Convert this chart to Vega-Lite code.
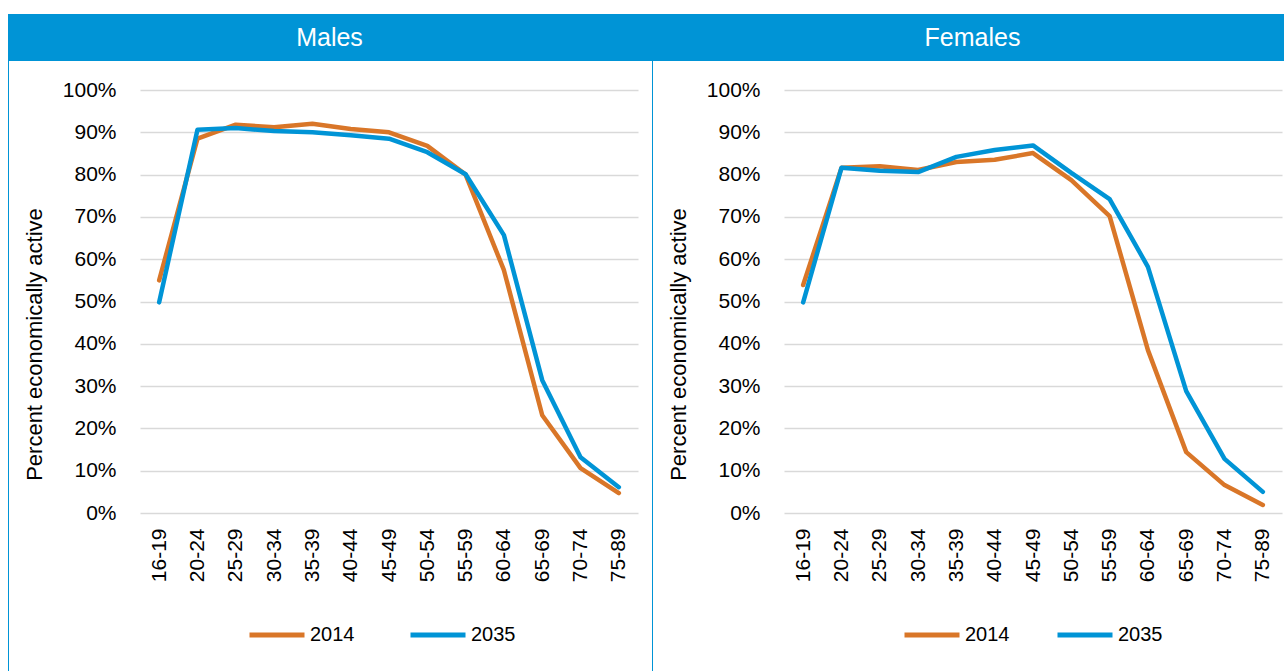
{
  "$schema": "https://vega.github.io/schema/vega-lite/v6.json",
  "padding": {"left": 8, "top": 14, "right": 0, "bottom": 0},
  "background": "white",
  "spacing": 0,
  "config": {
    "view": {"stroke": null},
    "font": "Liberation Sans",
    "axis": {"labelFont": "Liberation Sans", "labelColor": "black", "titleFont": "Liberation Sans", "titleColor": "black", "titleFontWeight": "normal"},
    "legend": {"labelFont": "Liberation Sans", "labelColor": "black"}
  },
  "datasets": {
    "rates": [
      {"sex": "Males", "age": "16-19", "year": "2014", "rate": 0.550},
      {"sex": "Males", "age": "20-24", "year": "2014", "rate": 0.885},
      {"sex": "Males", "age": "25-29", "year": "2014", "rate": 0.918},
      {"sex": "Males", "age": "30-34", "year": "2014", "rate": 0.912},
      {"sex": "Males", "age": "35-39", "year": "2014", "rate": 0.920},
      {"sex": "Males", "age": "40-44", "year": "2014", "rate": 0.908},
      {"sex": "Males", "age": "45-49", "year": "2014", "rate": 0.900},
      {"sex": "Males", "age": "50-54", "year": "2014", "rate": 0.868},
      {"sex": "Males", "age": "55-59", "year": "2014", "rate": 0.800},
      {"sex": "Males", "age": "60-64", "year": "2014", "rate": 0.574},
      {"sex": "Males", "age": "65-69", "year": "2014", "rate": 0.231},
      {"sex": "Males", "age": "70-74", "year": "2014", "rate": 0.106},
      {"sex": "Males", "age": "75-89", "year": "2014", "rate": 0.047},
      {"sex": "Males", "age": "16-19", "year": "2035", "rate": 0.498},
      {"sex": "Males", "age": "20-24", "year": "2035", "rate": 0.906},
      {"sex": "Males", "age": "25-29", "year": "2035", "rate": 0.910},
      {"sex": "Males", "age": "30-34", "year": "2035", "rate": 0.903},
      {"sex": "Males", "age": "35-39", "year": "2035", "rate": 0.900},
      {"sex": "Males", "age": "40-44", "year": "2035", "rate": 0.893},
      {"sex": "Males", "age": "45-49", "year": "2035", "rate": 0.885},
      {"sex": "Males", "age": "50-54", "year": "2035", "rate": 0.853},
      {"sex": "Males", "age": "55-59", "year": "2035", "rate": 0.801},
      {"sex": "Males", "age": "60-64", "year": "2035", "rate": 0.657},
      {"sex": "Males", "age": "65-69", "year": "2035", "rate": 0.314},
      {"sex": "Males", "age": "70-74", "year": "2035", "rate": 0.132},
      {"sex": "Males", "age": "75-89", "year": "2035", "rate": 0.061},
      {"sex": "Females", "age": "16-19", "year": "2014", "rate": 0.539},
      {"sex": "Females", "age": "20-24", "year": "2014", "rate": 0.816},
      {"sex": "Females", "age": "25-29", "year": "2014", "rate": 0.820},
      {"sex": "Females", "age": "30-34", "year": "2014", "rate": 0.811},
      {"sex": "Females", "age": "35-39", "year": "2014", "rate": 0.830},
      {"sex": "Females", "age": "40-44", "year": "2014", "rate": 0.835},
      {"sex": "Females", "age": "45-49", "year": "2014", "rate": 0.851},
      {"sex": "Females", "age": "50-54", "year": "2014", "rate": 0.787},
      {"sex": "Females", "age": "55-59", "year": "2014", "rate": 0.702},
      {"sex": "Females", "age": "60-64", "year": "2014", "rate": 0.385},
      {"sex": "Females", "age": "65-69", "year": "2014", "rate": 0.144},
      {"sex": "Females", "age": "70-74", "year": "2014", "rate": 0.066},
      {"sex": "Females", "age": "75-89", "year": "2014", "rate": 0.019},
      {"sex": "Females", "age": "16-19", "year": "2035", "rate": 0.498},
      {"sex": "Females", "age": "20-24", "year": "2035", "rate": 0.816},
      {"sex": "Females", "age": "25-29", "year": "2035", "rate": 0.809},
      {"sex": "Females", "age": "30-34", "year": "2035", "rate": 0.806},
      {"sex": "Females", "age": "35-39", "year": "2035", "rate": 0.842},
      {"sex": "Females", "age": "40-44", "year": "2035", "rate": 0.858},
      {"sex": "Females", "age": "45-49", "year": "2035", "rate": 0.869},
      {"sex": "Females", "age": "50-54", "year": "2035", "rate": 0.804},
      {"sex": "Females", "age": "55-59", "year": "2035", "rate": 0.742},
      {"sex": "Females", "age": "60-64", "year": "2035", "rate": 0.582},
      {"sex": "Females", "age": "65-69", "year": "2035", "rate": 0.288},
      {"sex": "Females", "age": "70-74", "year": "2035", "rate": 0.128},
      {"sex": "Females", "age": "75-89", "year": "2035", "rate": 0.050}
    ],
    "panels": [{"sex": "Males"}, {"sex": "Females"}]
  },
  "vconcat": [
    {
      "width": 1286,
      "height": 47,
      "data": {"name": "panels"},
      "view": {"fill": "#0094D6", "stroke": null},
      "mark": {"type": "text", "color": "white", "fontSize": 25, "font": "Liberation Sans", "baseline": "middle"},
      "encoding": {
        "x": {"field": "sex", "type": "nominal", "sort": ["Males", "Females"], "scale": {"type": "point", "padding": 0.5}, "axis": null},
        "text": {"field": "sex"}
      }
    },
    {
      "spacing": 14,
      "hconcat": [
        {
          "width": 1,
          "height": 610,
          "data": {"values": []},
          "view": {"fill": "#0094D6", "stroke": null},
          "mark": "point",
          "encoding": {}
        },
        {
          "width": 498,
          "height": 452,
          "data": {"name": "rates"},
          "transform": [{"filter": "datum.sex === 'Males'"}],
          "mark": {"type": "line", "strokeWidth": 4.5, "strokeCap": "round", "strokeJoin": "round"},
          "encoding": {
            "x": {"field": "age", "type": "ordinal", "scale": {"type": "point", "padding": 0.5},
              "axis": {"title": null, "labelAngle": -90, "labelFontSize": 21, "labelPadding": 15, "ticks": false, "domain": false, "grid": false}},
            "y": {"field": "rate", "type": "quantitative", "scale": {"domain": [0, 1.0686], "nice": false},
              "axis": {"title": "Percent economically active", "titleFontSize": 22, "titlePadding": 16, "titleY": 283,
                "values": [0, 0.1, 0.2, 0.3, 0.4, 0.5, 0.6, 0.7, 0.8, 0.9, 1.0], "format": ".0%",
                "labelFontSize": 21, "labelPadding": 24,
                "ticks": false, "domain": false, "grid": true, "gridColor": "#D9D9D9", "gridWidth": 1.5}},
            "color": {"field": "year", "type": "nominal", "scale": {"domain": ["2014", "2035"], "range": ["#D97628", "#0094D6"]},
              "legend": {"title": null, "orient": "none", "legendX": 107, "legendY": 544, "direction": "horizontal", "symbolType": "stroke", "symbolSize": 3025, "symbolStrokeWidth": 5, "labelFontSize": 20, "labelOffset": 3, "columnPadding": 45}}
          }
        },
        {
          "width": 1,
          "height": 610,
          "data": {"values": []},
          "view": {"fill": "#0094D6", "stroke": null},
          "mark": "point",
          "encoding": {}
        },
        {
          "width": 498,
          "height": 452,
          "data": {"name": "rates"},
          "transform": [{"filter": "datum.sex === 'Females'"}],
          "mark": {"type": "line", "strokeWidth": 4.5, "strokeCap": "round", "strokeJoin": "round"},
          "encoding": {
            "x": {"field": "age", "type": "ordinal", "scale": {"type": "point", "padding": 0.5},
              "axis": {"title": null, "labelAngle": -90, "labelFontSize": 21, "labelPadding": 15, "ticks": false, "domain": false, "grid": false}},
            "y": {"field": "rate", "type": "quantitative", "scale": {"domain": [0, 1.0686], "nice": false},
              "axis": {"title": "Percent economically active", "titleFontSize": 22, "titlePadding": 16, "titleY": 283,
                "values": [0, 0.1, 0.2, 0.3, 0.4, 0.5, 0.6, 0.7, 0.8, 0.9, 1.0], "format": ".0%",
                "labelFontSize": 21, "labelPadding": 24,
                "ticks": false, "domain": false, "grid": true, "gridColor": "#D9D9D9", "gridWidth": 1.5}},
            "color": {"field": "year", "type": "nominal", "scale": {"domain": ["2014", "2035"], "range": ["#D97628", "#0094D6"]},
              "legend": {"title": null, "orient": "none", "legendX": 118, "legendY": 544, "direction": "horizontal", "symbolType": "stroke", "symbolSize": 3025, "symbolStrokeWidth": 5, "labelFontSize": 20, "labelOffset": 3, "columnPadding": 37}}
          }
        }
      ],
      "resolve": {"scale": {"x": "independent", "y": "independent", "color": "independent"}}
    }
  ],
  "resolve": {"scale": {"x": "independent", "y": "independent", "color": "independent"}}
}
